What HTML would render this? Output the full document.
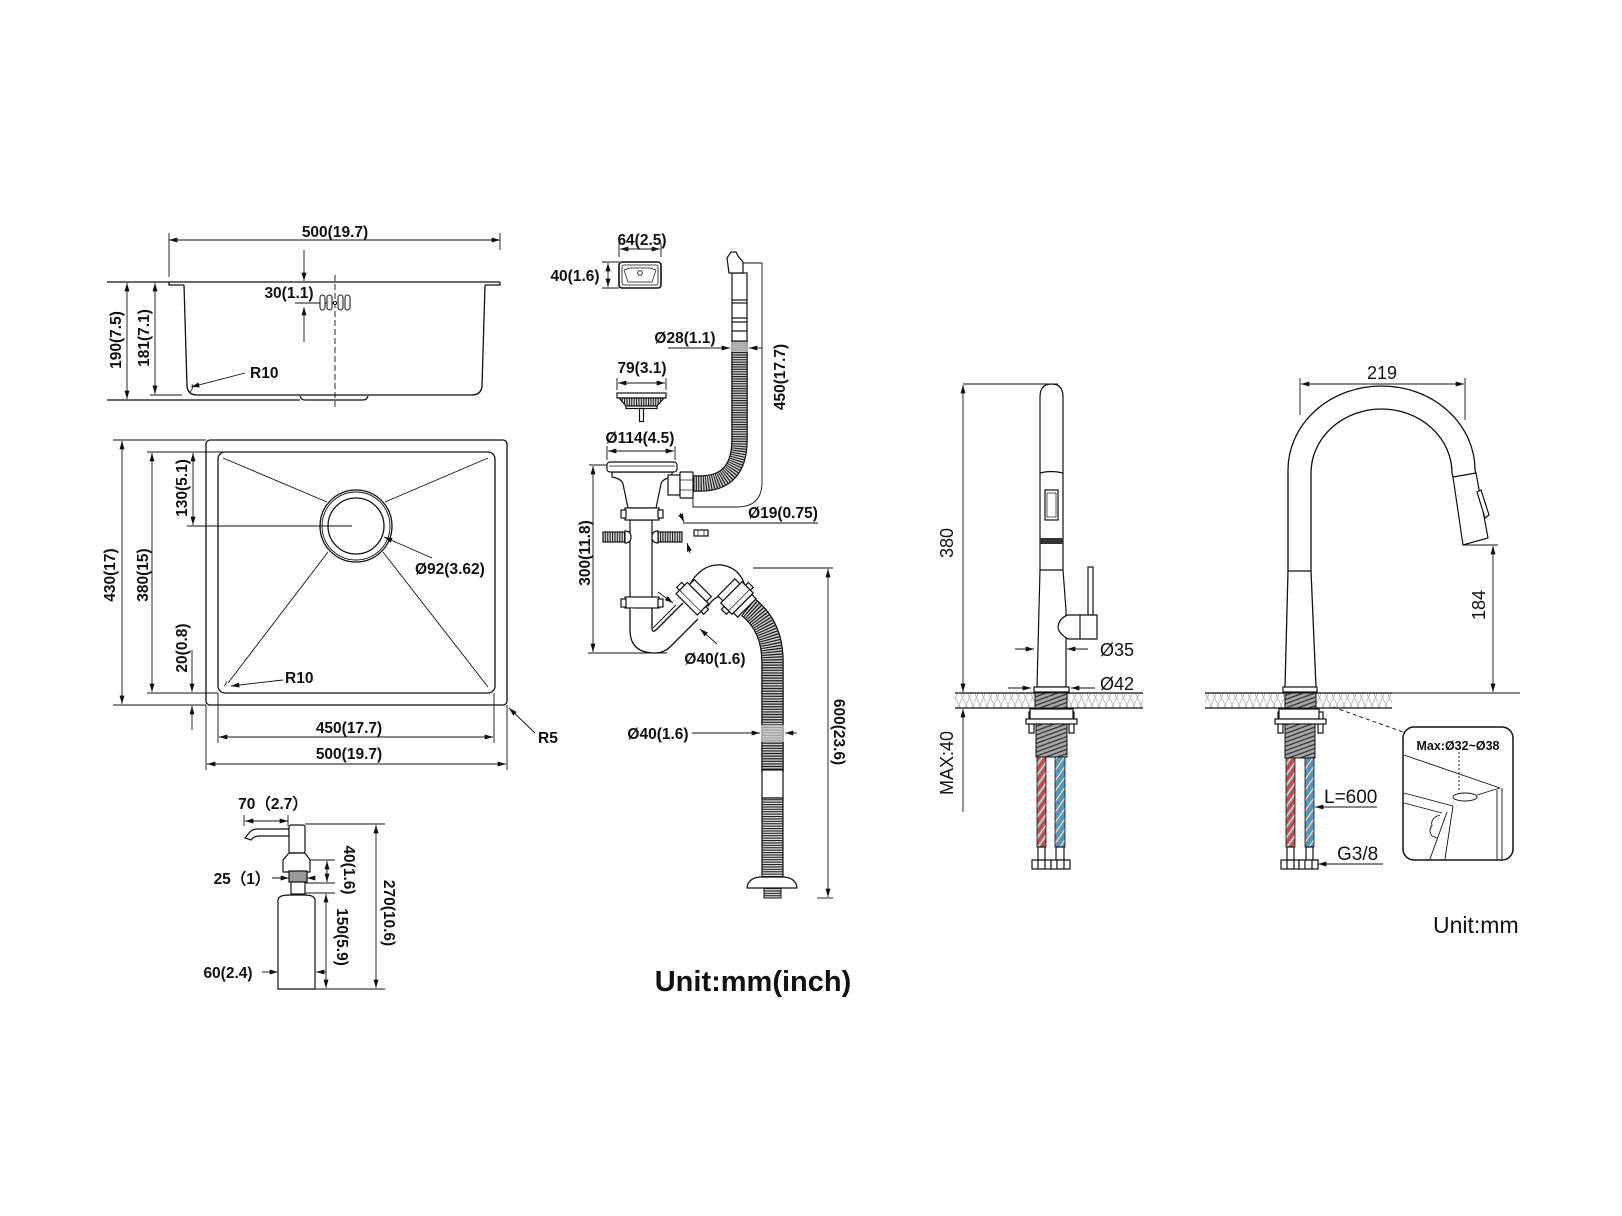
<!DOCTYPE html>
<html><head><meta charset="utf-8"><style>
html,body{margin:0;padding:0;background:#fff;}
svg{display:block;}
.d{font-family:"Liberation Sans",sans-serif;font-weight:bold;font-size:15.5px;fill:#111;}
.r{font-family:"Liberation Sans",sans-serif;font-size:18px;fill:#111;}
.ln{fill:none;stroke:#111;stroke-width:0.9;}
.ol{fill:none;stroke:#111;stroke-width:1.3;}
.wf{fill:#fff;stroke:#111;stroke-width:1.2;}
</style></head><body>
<svg width="1622" height="1216" viewBox="0 0 1622 1216" xmlns="http://www.w3.org/2000/svg">
<defs>
<marker id="a" viewBox="0 0 10 6" refX="10" refY="3" markerWidth="9" markerHeight="5" markerUnits="userSpaceOnUse" orient="auto-start-reverse"><path d="M0,0L10,3L0,6z" fill="#111"/></marker>
<pattern id="hatch" width="14" height="15" patternUnits="userSpaceOnUse"><path d="M0,15L7,0L14,15M0,0L7,15L14,0" stroke="#b0b0b0" stroke-width="0.8" fill="none"/></pattern>
<pattern id="thr" width="4" height="4" patternUnits="userSpaceOnUse" patternTransform="rotate(-20)"><rect width="4" height="4" fill="#a8a8a8"/><line x1="0" y1="1" x2="4" y2="1" stroke="#333" stroke-width="1.3"/></pattern>
<pattern id="red" width="6" height="6" patternUnits="userSpaceOnUse" patternTransform="rotate(35)"><rect width="6" height="6" fill="#8a8a8a"/><rect width="2.4" height="6" fill="#e23a3a"/><rect x="3.6" width="1" height="6" fill="#eee"/></pattern>
<pattern id="blue" width="6" height="6" patternUnits="userSpaceOnUse" patternTransform="rotate(35)"><rect width="6" height="6" fill="#8a8a8a"/><rect width="2.4" height="6" fill="#2aa3dc"/><rect x="3.6" width="1" height="6" fill="#eee"/></pattern>
<pattern id="vrib" width="2.4" height="4" patternUnits="userSpaceOnUse"><rect width="2.4" height="4" fill="#ddd"/><rect width="1.1" height="4" fill="#222"/></pattern>
<pattern id="hrib" width="4" height="2.4" patternUnits="userSpaceOnUse"><rect width="4" height="2.4" fill="#ddd"/><rect width="4" height="1.1" fill="#222"/></pattern>
</defs>
<rect width="1622" height="1216" fill="#fff"/>

<!-- ============ SINK SIDE VIEW ============ -->
<g class="ln">
<line x1="169" y1="240" x2="500" y2="240" marker-start="url(#a)" marker-end="url(#a)"/>
<line x1="169" y1="233" x2="169" y2="277"/>
<line x1="500" y1="233" x2="500" y2="250"/>
<line x1="127" y1="283" x2="127" y2="399" marker-start="url(#a)" marker-end="url(#a)"/>
<line x1="155" y1="283" x2="155" y2="394" marker-start="url(#a)" marker-end="url(#a)"/>
<line x1="150" y1="395" x2="182" y2="395"/>
<line x1="304" y1="250" x2="304" y2="281" marker-end="url(#a)"/>
<line x1="304" y1="342" x2="304" y2="307" marker-end="url(#a)"/>
<line x1="295" y1="303" x2="335" y2="303"/>
<line x1="335" y1="275" x2="335" y2="410" stroke-dasharray="6,3"/>
<line x1="245" y1="373" x2="191" y2="387" marker-end="url(#a)"/>
</g>
<g class="ol">
<path d="M107,282H500"/>
<path d="M169,282v3h15M485,285h15v-3"/>
<path d="M184,285L187,386Q188,395 197,395H472Q481,395 482,386L485,285"/>
<path d="M107,400H300M300,396Q301,400 305,400H363Q367,400 368,396" />
<path d="M190,392Q194,388 192,384" stroke-width="0.8"/>
</g>
<g fill="#fff" stroke="#111" stroke-width="1">
<rect x="320" y="295" width="5" height="15" rx="2.5"/>
<rect x="327" y="295" width="5" height="15" rx="2.5"/>
<rect x="338" y="295" width="5" height="15" rx="2.5"/>
<rect x="345" y="295" width="5" height="15" rx="2.5"/>
<circle cx="335" cy="303" r="1.6"/>
</g>
<text class="d" x="335" y="237" text-anchor="middle">500(19.7)</text>
<text class="d" x="289" y="298" text-anchor="middle">30(1.1)</text>
<text class="d" x="250" y="378">R10</text>
<text class="d" transform="translate(121,340) rotate(-90)" text-anchor="middle">190(7.5)</text>
<text class="d" transform="translate(149,338) rotate(-90)" text-anchor="middle">181(7.1)</text>

<!-- ============ SINK TOP VIEW ============ -->
<g class="ol">
<rect x="206" y="440" width="301" height="265" rx="4"/>
<rect x="218" y="452" width="277" height="241" rx="7"/>
<circle cx="356" cy="526" r="36"/>
<circle cx="356" cy="526" r="34" stroke-width="0.9"/>
<circle cx="356" cy="526" r="28"/>
</g>
<g class="ln">
<line x1="223" y1="458" x2="327" y2="502"/>
<line x1="488" y1="458" x2="385" y2="502"/>
<line x1="228" y1="683" x2="328" y2="552"/>
<line x1="488" y1="687" x2="383" y2="552"/>
<line x1="122" y1="441" x2="122" y2="704" marker-start="url(#a)" marker-end="url(#a)"/>
<line x1="113" y1="440" x2="206" y2="440"/>
<line x1="113" y1="705" x2="206" y2="705"/>
<line x1="152" y1="453" x2="152" y2="692" marker-start="url(#a)" marker-end="url(#a)"/>
<line x1="147" y1="452" x2="302" y2="452"/>
<line x1="147" y1="693" x2="218" y2="693"/>
<line x1="193" y1="453" x2="193" y2="525" marker-start="url(#a)" marker-end="url(#a)"/>
<line x1="187" y1="526" x2="352" y2="526"/>
<line x1="192" y1="650" x2="192" y2="692" marker-end="url(#a)"/>
<line x1="192" y1="730" x2="192" y2="706" marker-end="url(#a)"/>
<line x1="432" y1="558" x2="384" y2="537" marker-end="url(#a)"/>
<line x1="283" y1="680" x2="231" y2="686" marker-end="url(#a)"/>
<line x1="535" y1="733" x2="509" y2="708" marker-end="url(#a)"/>
<line x1="219" y1="737" x2="493" y2="737" marker-start="url(#a)" marker-end="url(#a)"/>
<line x1="218" y1="693" x2="218" y2="743"/>
<line x1="494" y1="693" x2="494" y2="743"/>
<line x1="207" y1="764" x2="506" y2="764" marker-start="url(#a)" marker-end="url(#a)"/>
<line x1="206" y1="705" x2="206" y2="770"/>
<line x1="507" y1="705" x2="507" y2="770"/>
<path d="M224,686Q227,684 226,681" stroke-width="0.8"/>
</g>
<text class="d" transform="translate(115,575) rotate(-90)" text-anchor="middle">430(17)</text>
<text class="d" transform="translate(148,575) rotate(-90)" text-anchor="middle">380(15)</text>
<text class="d" transform="translate(187,488) rotate(-90)" text-anchor="middle">130(5.1)</text>
<text class="d" transform="translate(187,648) rotate(-90)" text-anchor="middle">20(0.8)</text>
<text class="d" x="415" y="574">Ø92(3.62)</text>
<text class="d" x="285" y="683">R10</text>
<text class="d" x="538" y="743">R5</text>
<text class="d" x="349" y="733" text-anchor="middle">450(17.7)</text>
<text class="d" x="349" y="759" text-anchor="middle">500(19.7)</text>

<!-- ============ SOAP DISPENSER ============ -->
<g class="wf">
<path d="M245,838L249,833Q252,829 258,829H289V836H259Q254,836 251,840Z"/>
<rect x="289" y="825" width="16" height="28" rx="2"/>
<path d="M289,853L283,860V872H310V860L305,853Z"/>
<rect x="289" y="871" width="18" height="11" fill="#999"/>
<rect x="291" y="882" width="14" height="12"/>
<path d="M278,989V900Q278,895 290,895H304Q315,895 315,900V989Z"/>
</g>
<g class="ln">
<line x1="245" y1="821" x2="288" y2="821" marker-start="url(#a)" marker-end="url(#a)"/>
<line x1="244" y1="815" x2="244" y2="826"/>
<line x1="288" y1="815" x2="288" y2="826"/>
<line x1="327" y1="861" x2="327" y2="882" marker-start="url(#a)" marker-end="url(#a)"/>
<line x1="310" y1="860" x2="335" y2="860"/>
<line x1="305" y1="883" x2="335" y2="883"/>
<line x1="326" y1="894" x2="326" y2="988" marker-start="url(#a)" marker-end="url(#a)"/>
<line x1="305" y1="893" x2="335" y2="893"/>
<line x1="376" y1="825" x2="376" y2="988" marker-start="url(#a)" marker-end="url(#a)"/>
<line x1="305" y1="824" x2="385" y2="824"/>
<line x1="315" y1="989" x2="385" y2="989"/>
<line x1="272" y1="878" x2="289" y2="878" marker-end="url(#a)"/>
<line x1="314" y1="878" x2="307" y2="878" marker-end="url(#a)"/>
<line x1="262" y1="972" x2="278" y2="972" marker-end="url(#a)"/>
<line x1="326" y1="972" x2="316" y2="972" marker-end="url(#a)"/>
</g>
<text class="d" x="273" y="809" text-anchor="middle">70（2.7）</text>
<text class="d" x="242" y="884" text-anchor="middle">25（1）</text>
<text class="d" x="228" y="978" text-anchor="middle">60(2.4)</text>
<text class="d" transform="translate(344,870) rotate(90)" text-anchor="middle">40(1.6)</text>
<text class="d" transform="translate(337,937) rotate(90)" text-anchor="middle">150(5.9)</text>
<text class="d" transform="translate(384,913) rotate(90)" text-anchor="middle">270(10.6)</text>

<!-- ============ DRAIN ASSEMBLY ============ -->
<!-- strainer top view -->
<g class="wf">
<rect x="619" y="262" width="42" height="26" rx="3" stroke-width="1.6"/>
<rect x="622" y="265" width="36" height="20" rx="2" stroke-width="0.8"/>
<path d="M624,270L630,268H650L656,270L652,282H628Z" stroke-width="0.7"/>
<circle cx="640" cy="273" r="2.3" stroke-width="0.9"/>
</g>
<g class="ln">
<line x1="620" y1="249" x2="660" y2="249" marker-start="url(#a)" marker-end="url(#a)"/>
<line x1="619" y1="243" x2="619" y2="257"/>
<line x1="661" y1="243" x2="661" y2="257"/>
<line x1="608" y1="263" x2="608" y2="287" marker-start="url(#a)" marker-end="url(#a)"/>
<line x1="602" y1="262" x2="619" y2="262"/>
<line x1="602" y1="288" x2="619" y2="288"/>
</g>
<text class="d" x="642" y="245" text-anchor="middle">64(2.5)</text>
<text class="d" x="575" y="281" text-anchor="middle">40(1.6)</text>

<!-- overflow hose -->
<path d="M739.5,340V440Q739.5,483.5 700,483.5H693" fill="none" stroke="#111" stroke-width="16.5"/>
<path d="M739.5,340V440Q739.5,483.5 700,483.5H693" fill="none" stroke="#ccc" stroke-width="14"/>
<path d="M739.5,340V440Q739.5,483.5 700,483.5H693" fill="none" stroke="#222" stroke-width="14" stroke-dasharray="1.1,1.3"/>
<rect x="731" y="341" width="17" height="11" fill="#bbb" opacity="0.8"/>
<g class="wf">
<rect x="732" y="273" width="15" height="68"/>
<path d="M729,273L727,258L731,252H736L738,256L743,262V273Z"/>
<line x1="732" y1="300" x2="747" y2="300"/><line x1="732" y1="303" x2="747" y2="303"/>
<line x1="732" y1="318" x2="747" y2="318"/><line x1="732" y1="322" x2="747" y2="322"/>
<line x1="732" y1="331" x2="747" y2="331"/>
</g>
<g class="ln">
<line x1="743" y1="263" x2="762" y2="263"/>
<path d="M762,263V482Q762,507 737,507H693V497"/>
<line x1="668" y1="348" x2="730" y2="348" marker-end="url(#a)"/>
<line x1="762" y1="348" x2="749" y2="348" marker-end="url(#a)"/>
</g>
<text class="d" x="685" y="343" text-anchor="middle">Ø28(1.1)</text>
<text class="d" transform="translate(785,377) rotate(-90)" text-anchor="middle">450(17.7)</text>

<!-- basket strainer -->
<g class="ln">
<line x1="618" y1="383" x2="665" y2="383" marker-start="url(#a)" marker-end="url(#a)"/>
<line x1="617" y1="378" x2="617" y2="390"/>
<line x1="666" y1="378" x2="666" y2="390"/>
</g>
<g class="wf">
<rect x="617" y="393" width="49" height="5"/>
<path d="M619,398H664L657,406H626Z" fill="url(#vrib)"/>
<rect x="626" y="406" width="31" height="2.5"/>
<rect x="639.5" y="408.5" width="4" height="13"/>
</g>
<text class="d" x="642" y="373" text-anchor="middle">79(3.1)</text>

<!-- drain body -->
<g class="ln">
<line x1="608" y1="451" x2="674" y2="451" marker-start="url(#a)" marker-end="url(#a)"/>
<line x1="607" y1="446" x2="607" y2="460"/>
<line x1="675" y1="446" x2="675" y2="460"/>
</g>
<text class="d" x="640" y="443" text-anchor="middle">Ø114(4.5)</text>
<g class="wf">
<path d="M612,472V477Q622,479 623,484L628,508H656L661,484Q662,479 672,477V472Z"/>
<rect x="607" y="462" width="70" height="10" rx="3"/>
<line x1="609" y1="466" x2="675" y2="466" stroke-width="0.7"/>
<rect x="668" y="475" width="12" height="20"/>
<rect x="680" y="472" width="13" height="26" rx="1"/>
<line x1="680" y1="480" x2="693" y2="480" stroke-width="0.7"/>
<line x1="680" y1="490" x2="693" y2="490" stroke-width="0.7"/>
<rect x="630" y="520" width="22" height="78"/>
<rect x="625" y="508" width="34" height="12"/>
<rect x="621" y="510" width="5" height="8"/>
<rect x="658" y="510" width="5" height="8"/>
<rect x="625" y="597" width="34" height="11"/>
<rect x="621" y="599" width="5" height="8"/>
<rect x="658" y="599" width="5" height="8"/>
<rect x="603" y="532" width="22" height="10" fill="url(#vrib)"/>
<path d="M625,531Q631,531 631,537Q631,543 625,543Z"/>
<rect x="658" y="532" width="24" height="10" fill="url(#vrib)"/>
<path d="M658,531Q652,531 652,537Q652,543 658,543Z"/>
<rect x="694" y="530" width="14" height="6"/>
<line x1="698" y1="530" x2="698" y2="536" stroke-width="0.7"/>
<line x1="704" y1="530" x2="704" y2="536" stroke-width="0.7"/>
</g>
<g class="ln">
<line x1="683" y1="523" x2="818" y2="523"/>
<line x1="680" y1="513" x2="684" y2="522" marker-end="url(#a)"/>
<line x1="690" y1="553" x2="687" y2="543" marker-end="url(#a)"/>
</g>
<text class="d" x="783" y="518" text-anchor="middle">Ø19(0.75)</text>

<!-- U trap and elbow -->
<g class="ol" stroke-width="1.2">
<path d="M630,608V630Q630,653 655,653Q664,653 670,647L698,619" fill="#fff"/>
<path d="M652,608V628Q652,634 657,629L683,603"/>
<path d="M688,588Q700,563 722,565Q740,568 745,586L730,603Q727,596 721,596Q714,597 708,606Z" fill="#fff"/>
</g>
<g transform="translate(693,598) rotate(-45)" class="wf">
<rect x="-9" y="-15" width="16" height="30"/>
<rect x="7" y="-12" width="7" height="24"/>
<rect x="-4" y="-19" width="7" height="4"/>
<rect x="-4" y="15" width="7" height="4"/>
<line x1="-4" y1="-15" x2="-4" y2="15" stroke-width="0.7"/>
</g>
<!-- lower hose -->
<path d="M748,607Q772.5,626 772.5,662V772" fill="none" stroke="#111" stroke-width="22.5"/>
<path d="M748,607Q772.5,626 772.5,662V772" fill="none" stroke="#ccc" stroke-width="20"/>
<path d="M748,607Q772.5,626 772.5,662V772" fill="none" stroke="#222" stroke-width="20" stroke-dasharray="1.2,1.4"/>
<g transform="translate(737,598) rotate(45)" class="wf">
<rect x="-8" y="-15" width="16" height="30"/>
<rect x="-15" y="-12" width="7" height="24"/>
<rect x="8" y="-13" width="6" height="26"/>
<rect x="-3" y="-19" width="7" height="4"/>
<rect x="-3" y="15" width="7" height="4"/>
<line x1="3" y1="-15" x2="3" y2="15" stroke-width="0.7"/>
</g>
<rect x="761" y="725" width="23" height="17" fill="#ccc" opacity="0.75"/>
<rect x="762" y="770" width="21" height="28" class="wf"/>
<rect x="762" y="798" width="21" height="80" fill="url(#hrib)" stroke="#111" stroke-width="1.2"/>
<rect x="764" y="887" width="17" height="11" fill="url(#hrib)" stroke="#111" stroke-width="1"/>
<path d="M747,888Q748,878 760,877H784Q796,878 797,888Z" class="wf"/>

<g class="ln">
<line x1="593" y1="466" x2="593" y2="652" marker-start="url(#a)" marker-end="url(#a)"/>
<line x1="589" y1="465" x2="607" y2="465"/>
<line x1="588" y1="653" x2="667" y2="653"/>
<line x1="658" y1="592" x2="673" y2="603" marker-end="url(#a)"/>
<line x1="653" y1="628" x2="676" y2="605"/>
<line x1="717" y1="644" x2="700" y2="629" marker-end="url(#a)"/>
<line x1="753" y1="568" x2="833" y2="568"/>
<line x1="828" y1="569" x2="828" y2="897" marker-start="url(#a)" marker-end="url(#a)"/>
<line x1="817" y1="898" x2="833" y2="898"/>
<line x1="692" y1="733" x2="760" y2="733" marker-end="url(#a)"/>
<line x1="797" y1="733" x2="785" y2="733" marker-end="url(#a)"/>
</g>
<text class="d" transform="translate(590,553) rotate(-90)" text-anchor="middle">300(11.8)</text>
<text class="d" x="715" y="664" text-anchor="middle">Ø40(1.6)</text>
<text class="d" x="658" y="739" text-anchor="middle">Ø40(1.6)</text>
<text class="d" transform="translate(834,732) rotate(90)" text-anchor="middle">600(23.6)</text>
<text x="753" y="991" text-anchor="middle" style="font-family:'Liberation Sans',sans-serif;font-weight:bold;font-size:29px;fill:#111">Unit:mm(inch)</text>

<!-- ============ FAUCET 1 ============ -->
<rect x="955" y="693" width="188" height="15" fill="url(#hatch)"/>
<g class="ol">
<line x1="955" y1="693" x2="1143" y2="693"/>
<line x1="955" y1="708" x2="1143" y2="708"/>
</g>
<g class="wf" stroke-width="1.3">
<path d="M1037,687L1040,570V397Q1040,384 1051.5,384Q1063,384 1063,397V570L1066,610V687Z"/>
<path d="M1040,473Q1051,470 1063,473" fill="none"/>
<line x1="1040" y1="570" x2="1063" y2="570"/>
<rect x="1045" y="490" width="13" height="30"/>
<rect x="1047" y="493" width="9" height="24" stroke-width="0.7"/>
<rect x="1088" y="567" width="5" height="48"/>
<path d="M1068,615H1097V639H1068Q1058,633 1058,627Q1059,618 1068,615Z"/>
<line x1="1080" y1="615" x2="1080" y2="639"/>
<rect x="1034" y="687" width="35" height="5"/>
</g>
<rect x="1040" y="538" width="23" height="6" fill="#333"/>
<rect x="1035" y="693" width="32" height="15" fill="url(#thr)" stroke="#111"/>
<g class="wf">
<rect x="1029" y="712" width="5" height="21"/>
<rect x="1069" y="712" width="5" height="21"/>
<rect x="1030" y="709" width="43" height="10"/>
<rect x="1026" y="719" width="51" height="5"/>
</g>
<rect x="1036" y="724" width="31" height="33" fill="url(#thr)" stroke="#111"/>
<rect x="1037" y="757" width="9" height="90" fill="url(#red)" stroke="#111" stroke-width="0.8"/>
<rect x="1055" y="757" width="10" height="90" fill="url(#blue)" stroke="#111" stroke-width="0.8"/>
<g class="wf" stroke-width="0.9">
<rect x="1038" y="847" width="7" height="13"/>
<rect x="1056" y="847" width="8" height="13"/>
<rect x="1032" y="860" width="19" height="9"/>
<rect x="1051" y="860" width="19" height="9"/>
<line x1="1038" y1="860" x2="1038" y2="869"/><line x1="1045" y1="860" x2="1045" y2="869"/>
<line x1="1057" y1="860" x2="1057" y2="869"/><line x1="1064" y1="860" x2="1064" y2="869"/>
</g>
<g class="ln">
<line x1="963" y1="385" x2="963" y2="692" marker-start="url(#a)" marker-end="url(#a)"/>
<line x1="963" y1="384" x2="1058" y2="384"/>
<line x1="963" y1="709" x2="963" y2="812" marker-start="url(#a)"/>
<line x1="1015" y1="649" x2="1034" y2="649" marker-end="url(#a)"/>
<line x1="1088" y1="649" x2="1067" y2="649" marker-end="url(#a)"/>
<line x1="1008" y1="688" x2="1031" y2="688" marker-end="url(#a)"/>
<line x1="1095" y1="688" x2="1071" y2="688" marker-end="url(#a)"/>
</g>
<text class="r" transform="translate(953,543) rotate(-90)" text-anchor="middle">380</text>
<text class="r" transform="translate(953,763) rotate(-90)" text-anchor="middle">MAX:40</text>
<text class="r" x="1100" y="656">Ø35</text>
<text class="r" x="1100" y="690">Ø42</text>

<!-- ============ FAUCET 2 ============ -->
<rect x="1205" y="693" width="187" height="15" fill="url(#hatch)"/>
<g class="ol">
<line x1="1205" y1="693" x2="1392" y2="693"/>
<line x1="1392" y1="693" x2="1520" y2="693" stroke-width="0.9"/>
<line x1="1205" y1="708" x2="1392" y2="708"/>
</g>
<g class="ol" stroke-width="1.4">
<path d="M1285,687L1288,571V470A93.5,84 0 0 1 1475,470L1476,474"/>
<path d="M1316,687L1311,571V473A70.5,64 0 0 1 1452,473L1453,477"/>
<line x1="1288" y1="571" x2="1311" y2="571"/>
</g>
<g class="wf" stroke-width="1.3">
<path d="M1453,477L1476,473L1488,538L1463,545Z"/>
<path d="M1477,492L1481,490L1489,515L1485,518Z"/>
<rect x="1283" y="687" width="34" height="5"/>
</g>
<rect x="1285" y="693" width="31" height="15" fill="url(#thr)" stroke="#111"/>
<g class="wf">
<rect x="1278" y="712" width="5" height="21"/>
<rect x="1318" y="712" width="5" height="21"/>
<rect x="1279" y="709" width="40" height="10"/>
<rect x="1275" y="719" width="51" height="5"/>
</g>
<rect x="1285" y="724" width="30" height="34" fill="url(#thr)" stroke="#111"/>
<rect x="1286" y="758" width="9" height="89" fill="url(#red)" stroke="#111" stroke-width="0.8"/>
<rect x="1305" y="758" width="9" height="89" fill="url(#blue)" stroke="#111" stroke-width="0.8"/>
<g class="wf" stroke-width="0.9">
<rect x="1287" y="847" width="7" height="13"/>
<rect x="1306" y="847" width="7" height="13"/>
<rect x="1281" y="860" width="18" height="9"/>
<rect x="1299" y="860" width="19" height="9"/>
<line x1="1287" y1="860" x2="1287" y2="869"/><line x1="1294" y1="860" x2="1294" y2="869"/>
<line x1="1305" y1="860" x2="1305" y2="869"/><line x1="1312" y1="860" x2="1312" y2="869"/>
</g>
<g class="ln">
<line x1="1301" y1="384" x2="1464" y2="384" marker-start="url(#a)" marker-end="url(#a)"/>
<line x1="1300" y1="378" x2="1300" y2="415"/>
<line x1="1465" y1="378" x2="1465" y2="420"/>
<line x1="1493" y1="546" x2="1493" y2="692" marker-start="url(#a)" marker-end="url(#a)"/>
<line x1="1463" y1="545" x2="1498" y2="545"/>
<line x1="1323" y1="807" x2="1377" y2="807"/>
<line x1="1323" y1="807" x2="1315" y2="807" marker-end="url(#a)"/>
<line x1="1322" y1="864" x2="1383" y2="864"/>
<line x1="1322" y1="864" x2="1318" y2="864" marker-end="url(#a)"/>
<line x1="1333" y1="707" x2="1403" y2="732" stroke-dasharray="4,3"/>
</g>
<text class="r" x="1382" y="379" text-anchor="middle">219</text>
<text class="r" transform="translate(1485,605) rotate(-90)" text-anchor="middle">184</text>
<text class="r" x="1324" y="803" style="font-size:19px">L=600</text>
<text class="r" x="1337" y="860" style="font-size:19px">G3/8</text>

<!-- detail box -->
<rect x="1403" y="727" width="110" height="133" rx="11" fill="#fff" stroke="#111" stroke-width="1.5"/>
<g class="ln" stroke-width="1.1">
<line x1="1404" y1="755" x2="1500" y2="788"/>
<line x1="1477" y1="795" x2="1500" y2="788"/>
<line x1="1497" y1="790" x2="1497" y2="859"/>
<line x1="1502" y1="788" x2="1502" y2="859"/>
<line x1="1404" y1="793" x2="1453" y2="806"/>
<line x1="1404" y1="803" x2="1442" y2="813"/>
<ellipse cx="1465" cy="797" rx="12" ry="4"/>
<line x1="1453" y1="806" x2="1445" y2="859"/>
<line x1="1447" y1="812" x2="1430" y2="859"/>
<path d="M1440,815Q1430,818 1432,826Q1428,830 1432,836L1437,838"/>
<line x1="1459" y1="752" x2="1459" y2="792" stroke-dasharray="2,2"/>
</g>
<text x="1458" y="750" text-anchor="middle" style="font-family:'Liberation Sans',sans-serif;font-weight:bold;font-size:12.5px;fill:#111">Max:Ø32~Ø38</text>
<text x="1433" y="933" style="font-family:'Liberation Sans',sans-serif;font-size:23px;fill:#111">Unit:mm</text>
</svg>
</body></html>
